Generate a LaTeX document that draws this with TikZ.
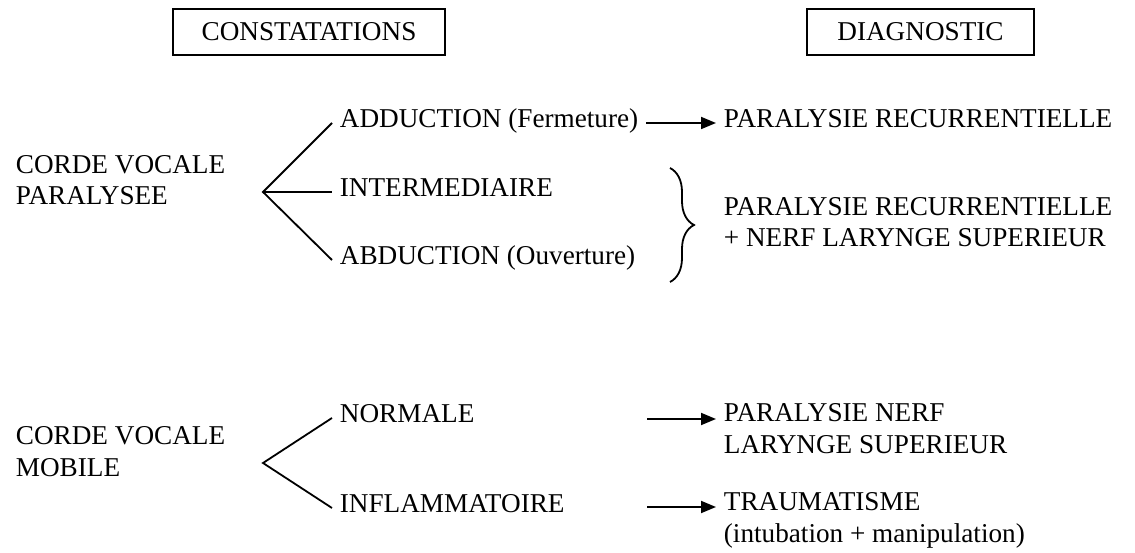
\documentclass[tikz,border=0pt]{standalone}
\usepackage{fontspec}
\setmainfont{Liberation Serif}
\usetikzlibrary{arrows.meta, decorations.pathreplacing}

\tikzset{
  titlebox/.style={draw, line width=0.9pt, minimum height=23pt, inner sep=0pt},
  lbl/.style={anchor=mid west, inner sep=3.5pt},
  blk/.style={align=left, inner sep=3.5pt},
  arr/.style={line width=0.9pt, -{Triangle[length=7.5pt,width=6pt]}}
}

\begin{document}
\begin{tikzpicture}[x=0.5pt, y=0.5pt, line width=0.9pt, font=\fontsize{13.6}{15.75}\selectfont]
	\useasboundingbox (0,0) rectangle (1135,552);

	% Headers
	\node[titlebox, minimum width=136pt] (cons) at (309,520) {CONSTATATIONS};
	\node[titlebox, minimum width=113.5pt] (diag) at (920.5,520) {DIAGNOSTIC};

	% Paralysed vocal cord
	\node[blk, anchor=base west, inner sep=0pt] (cvp) at (15,347) {CORDE VOCALE\\PARALYSEE};
	\coordinate (f1) at (263,360);
	\node[lbl] (add) at (332,429) {ADDUCTION (Fermeture)};
	\node[lbl] (inter) at (332,360) {INTERMEDIAIRE};
	\node[lbl] (abd) at (332,292) {ABDUCTION (Ouverture)};
	\draw (add.mid west) -- (f1) -- (abd.mid west);
	\draw (f1) -- (inter.mid west);

	\node[lbl] (rec1) at (716,429) {PARALYSIE RECURRENTIELLE};
	\draw[arr] (add.mid east) -- (add.mid east -| rec1.west);

	\coordinate (bt) at (670,384);
	\coordinate (bb) at (670,270);
	\draw[decorate, decoration={brace, amplitude=12pt}] (bt) -- (bb);
	\node[blk, anchor=west] (rec2) at (716,330) {PARALYSIE RECURRENTIELLE\\+ NERF LARYNGE SUPERIEUR};

	% Mobile vocal cord
	\node[blk, anchor=base west, inner sep=0pt] (cvm) at (15,76) {CORDE VOCALE\\MOBILE};
	\coordinate (f2) at (263,89);
	\node[lbl] (norm) at (332,134) {NORMALE};
	\node[lbl] (infl) at (332,44) {INFLAMMATOIRE};
	\draw (norm.mid west) -- (f2) -- (infl.mid west);

	\node[blk, anchor=base west] (nerf) at (716,99) {PARALYSIE NERF\\LARYNGE SUPERIEUR};
	\node[blk, anchor=base west] (trau) at (716,10) {TRAUMATISME\\(intubation + manipulation)};
	\coordinate (s1) at (647,133);
	\coordinate (s2) at (647,45);
	\draw[arr] (s1) -- (s1 -| nerf.west);
	\draw[arr] (s2) -- (s2 -| trau.west);

\end{tikzpicture}
\end{document}
